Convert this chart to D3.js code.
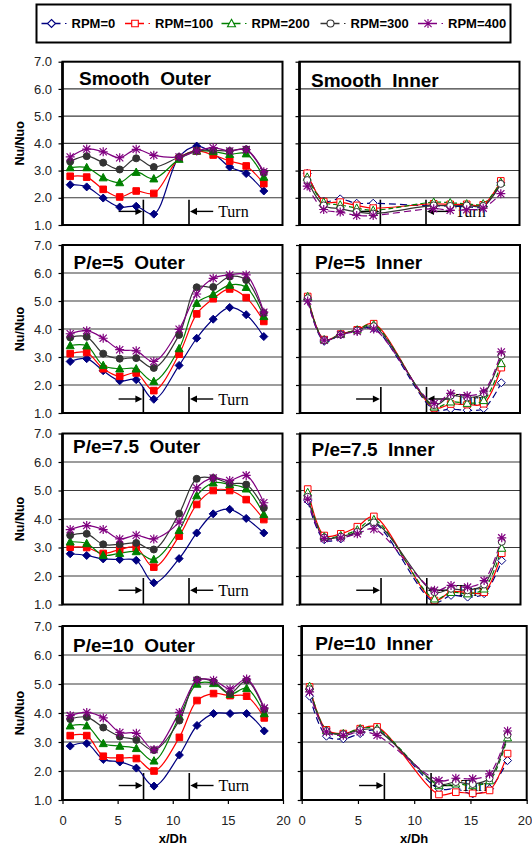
<!DOCTYPE html>
<html><head><meta charset="utf-8">
<script src="https://cdn.jsdelivr.net/npm/d3@7"></script>
<style>
body{margin:0;background:#fff}
svg text{font-family:"Liberation Sans",Arial,sans-serif}
</style></head><body>
<svg id="chart" width="532" height="847"></svg>
<script>
// ---- data ----
const rpmLabels = ["RPM=0", "RPM=100", "RPM=200", "RPM=300", "RPM=400"];
const xOuter = [0.7, 2.2, 3.7, 5.2, 6.7, 8.3, 10.6, 12.2, 13.7, 15.2, 16.7, 18.3];
const xInner = [0.7, 2.2, 3.7, 5.2, 6.7, 12.2, 13.7, 15.2, 16.7, 18.3];
const yTicks = [1, 2, 3, 4, 5, 6, 7];
const xTicks = [0, 5, 10, 15, 20];
const panelTitles = ["Smooth  Outer", "Smooth  Inner", "P/e=5  Outer", "P/e=5  Inner",
                     "P/e=7.5  Outer", "P/e=7.5  Inner", "P/e=10  Outer", "P/e=10  Inner"];
const turnMarks = [7.35, 11.5];

// Nu/Nuo, one row per RPM (0,100,200,300,400)
const smoothOuter = [
  [2.48, 2.40, 1.99, 1.66, 1.69, 1.40, 3.50, 3.90, 3.64, 3.13, 2.89, 2.25],
  [2.79, 2.76, 2.31, 2.03, 2.25, 2.16, 3.45, 3.72, 3.57, 3.35, 3.17, 2.52],
  [3.11, 3.11, 2.74, 2.56, 2.94, 2.70, 3.42, 3.72, 3.70, 3.60, 3.62, 2.76],
  [3.33, 3.53, 3.29, 3.04, 3.45, 3.13, 3.50, 3.74, 3.74, 3.72, 3.78, 2.92],
  [3.50, 3.79, 3.69, 3.47, 3.78, 3.56, 3.50, 3.72, 3.84, 3.72, 3.77, 2.96]
];
const smoothInner = [
  [2.90, 1.88, 1.96, 1.80, 1.80, 1.70, 1.70, 1.67, 1.68, 2.55],
  [2.90, 1.86, 1.84, 1.72, 1.62, 1.78, 1.76, 1.76, 1.74, 2.62],
  [2.76, 1.84, 1.74, 1.62, 1.54, 1.84, 1.82, 1.78, 1.78, 2.57],
  [2.65, 1.72, 1.60, 1.48, 1.42, 1.72, 1.70, 1.72, 1.70, 2.51],
  [2.43, 1.57, 1.48, 1.35, 1.35, 1.60, 1.54, 1.56, 1.62, 2.15]
];
const pe5Outer = [
  [2.84, 2.94, 2.51, 2.15, 2.19, 1.49, 2.70, 3.67, 4.35, 4.77, 4.51, 3.73],
  [3.12, 3.16, 2.58, 2.31, 2.43, 1.80, 3.10, 4.54, 5.08, 5.43, 5.12, 4.27],
  [3.41, 3.40, 2.70, 2.58, 2.58, 2.13, 3.30, 4.92, 5.24, 5.57, 5.49, 4.45],
  [3.70, 3.72, 3.12, 2.94, 2.96, 2.61, 3.79, 5.49, 5.50, 5.87, 5.75, 4.57],
  [3.83, 3.94, 3.67, 3.26, 3.22, 2.84, 3.99, 5.25, 5.81, 5.93, 5.93, 4.60]
];
const pe5Inner = [
  [5.04, 3.56, 3.80, 3.95, 4.03, 1.12, 1.14, 1.10, 1.16, 2.08],
  [5.16, 3.62, 3.82, 3.97, 4.19, 1.18, 1.32, 1.30, 1.33, 2.62],
  [5.16, 3.62, 3.82, 3.97, 4.15, 1.22, 1.40, 1.35, 1.45, 2.77],
  [5.10, 3.60, 3.80, 3.95, 4.10, 1.28, 1.62, 1.55, 1.70, 3.05],
  [5.00, 3.60, 3.80, 3.91, 4.00, 1.34, 1.70, 1.62, 1.78, 3.18]
];
const pe75Outer = [
  [2.78, 2.72, 2.60, 2.58, 2.55, 1.76, 2.61, 3.51, 4.18, 4.34, 4.02, 3.51],
  [3.01, 3.00, 2.79, 2.93, 3.00, 2.31, 3.40, 4.51, 5.00, 5.00, 4.68, 3.98],
  [3.20, 3.14, 2.73, 2.80, 2.86, 2.58, 3.60, 4.82, 5.27, 5.21, 5.06, 4.16],
  [3.43, 3.48, 3.11, 3.11, 3.16, 2.93, 4.19, 5.41, 5.44, 5.25, 5.21, 4.39],
  [3.63, 3.77, 3.63, 3.30, 3.43, 3.30, 3.89, 5.09, 5.44, 5.35, 5.53, 4.57]
];
const pe75Inner = [
  [4.64, 3.27, 3.30, 3.55, 3.85, 1.08, 1.32, 1.26, 1.38, 2.54],
  [5.05, 3.42, 3.48, 3.73, 4.09, 1.14, 1.45, 1.42, 1.43, 2.80],
  [4.93, 3.38, 3.42, 3.62, 3.98, 1.20, 1.43, 1.38, 1.55, 2.98],
  [4.78, 3.35, 3.38, 3.55, 3.88, 1.43, 1.55, 1.50, 1.70, 3.20],
  [4.70, 3.32, 3.34, 3.48, 3.65, 1.50, 1.67, 1.61, 1.84, 3.34]
];
const pe10Outer = [
  [2.86, 2.95, 2.40, 2.31, 2.10, 1.48, 2.55, 3.57, 3.98, 3.98, 3.98, 3.38],
  [3.22, 3.22, 2.51, 2.45, 2.43, 2.00, 3.16, 4.43, 4.67, 4.60, 4.58, 3.83],
  [3.56, 3.56, 2.95, 2.86, 2.78, 2.35, 3.88, 5.00, 5.02, 4.65, 4.85, 3.98],
  [3.79, 3.86, 3.50, 3.19, 3.07, 2.72, 3.74, 5.15, 5.08, 4.68, 5.12, 4.12],
  [3.91, 4.02, 3.83, 3.33, 3.30, 2.74, 4.02, 5.12, 5.13, 4.83, 5.17, 4.17]
];
const pe10Inner = [
  [4.58, 3.20, 3.11, 3.29, 3.40, 1.39, 1.39, 1.21, 1.39, 2.36],
  [4.90, 3.42, 3.29, 3.46, 3.52, 1.19, 1.27, 1.23, 1.33, 2.60],
  [4.92, 3.40, 3.29, 3.46, 3.46, 1.50, 1.56, 1.50, 1.67, 3.15],
  [4.82, 3.38, 3.27, 3.42, 3.40, 1.55, 1.62, 1.55, 1.75, 3.25],
  [4.73, 3.35, 3.23, 3.35, 3.23, 1.67, 1.75, 1.73, 1.90, 3.38]
];

// ---- styles ----
const colors = ["#000080", "#ff0000", "#008000", "#333333", "#800080"];
const innerDash = ["7,4", null, "5,3", null, "7,4"];
const markerPaths = [
  "M0,-4L4,0L0,4L-4,0Z",                       // diamond
  "M-3.3,-3.3H3.3V3.3H-3.3Z",                  // square
  "M0,-4.2L4,3.2H-4Z",                         // triangle
  "M3.5,0A3.5,3.5 0 1,1 -3.5,0A3.5,3.5 0 1,1 3.5,0Z", // circle
  "M-3.6,-3.6L3.6,3.6M-3.6,3.6L3.6,-3.6M0,-4.5V4.5M-4.5,0H4.5" // star
];

// ---- layout ----
const rowBox = [[61.7, 225], [245, 413], [433.5, 604.5], [626, 800]];
const colBox = [[[62.5, 282.5], [299.5, 519.5]], [[62.5, 282.5], [300, 520]],
                [[62.5, 282.5], [300, 520.5]], [[62.5, 283], [301.7, 526.7]]];
const titleOff = [[16.5, 23.5], [11.5, 25], [11, 23.5], [15, 24],
                  [10.5, 19], [11.5, 22], [10.5, 25.5], [13.5, 24]];

const panelData = [smoothOuter, smoothInner, pe5Outer, pe5Inner,
                   pe75Outer, pe75Inner, pe10Outer, pe10Inner];

const svg = d3.select("#chart");

// legend
const legendX = [41.5, 125, 221.5, 320.5, 418];
svg.append("rect").attr("x", 36.5).attr("y", 4.5).attr("width", 474).attr("height", 38)
  .attr("fill", "#fff").attr("stroke", "#000").attr("stroke-width", 2);
rpmLabels.forEach((lab, i) => {
  const g = svg.append("g").attr("transform", `translate(${legendX[i]},23.5)`);
  g.append("line").attr("x1", 0).attr("x2", 19).attr("stroke", colors[i]).attr("stroke-width", 1.5);
  g.append("path").attr("d", markerPaths[i]).attr("transform", "translate(10,0)")
    .attr("fill", i === 4 ? "none" : "#fff").attr("stroke", colors[i]).attr("stroke-width", 1.1);
  g.append("line").attr("x1", 23.5).attr("x2", 25).attr("stroke", colors[i]).attr("stroke-width", 1.2);
  g.append("text").attr("x", 30).attr("y", 4.7).attr("font-size", 13).attr("font-weight", "bold")
    .attr("fill", "#000").text(lab);
});

const lineGen = (x, y) => d3.line().x(d => x(d[0])).y(d => y(d[1])).curve(d3.curveCatmullRom.alpha(0.5));

panelData.forEach((data, p) => {
  const row = Math.floor(p / 2), col = p % 2;
  const inner = col === 1;
  const [top, bottom] = rowBox[row];
  const [left, right] = colBox[row][col];
  const x = d3.scaleLinear().domain([0, 20]).range([left, right]);
  const y = d3.scaleLinear().domain([1, 7]).range([bottom, top]);
  const xs = inner ? xInner : xOuter;
  const g = svg.append("g");

  // horizontal gridlines
  g.selectAll(".grid").data(yTicks.slice(1, -1)).enter().append("line")
    .attr("x1", left).attr("x2", right).attr("y1", d => y(d)).attr("y2", d => y(d))
    .attr("stroke", "#3a3a3a").attr("stroke-width", 1.1);

  // y axis
  const yAxis = d3.axisLeft(y).tickValues(yTicks).tickSize(4).tickSizeOuter(0)
    .tickFormat(inner ? () => "" : d3.format(".1f"));
  const ya = g.append("g").attr("transform", `translate(${left},0)`).call(yAxis);
  ya.select(".domain").remove();
  ya.selectAll(".tick line").attr("stroke", "#000").attr("stroke-width", 1.2);
  ya.selectAll(".tick text").attr("font-size", 13).attr("fill", "#222").attr("x", -10.5)
    .style("font-family", "'Liberation Sans',Arial,sans-serif");

  if (!inner) {
    g.append("text").attr("transform", `translate(20,${(top + bottom) / 2}) rotate(-90)`)
      .attr("text-anchor", "middle").attr("dominant-baseline", "central")
      .attr("font-size", 12.5).attr("font-weight", "bold").text("Nu/Nuo");
  }

  // x axis on the bottom row
  if (row === 3) {
    const xAxis = d3.axisBottom(x).tickValues(xTicks).tickSize(4).tickSizeOuter(0).tickFormat(d3.format("d"));
    const xa = g.append("g").attr("transform", `translate(0,${bottom})`).call(xAxis);
    xa.select(".domain").remove();
    xa.selectAll(".tick line").attr("stroke", "#000").attr("stroke-width", 1.2);
    xa.selectAll(".tick text").attr("font-size", 13).attr("fill", "#222").attr("y", 16)
      .style("font-family", "'Liberation Sans',Arial,sans-serif");
    // keep the last label of the right-hand panel inside the page edge
    if (inner) xa.selectAll(".tick text").filter(d => d === 20).attr("text-anchor", "end").attr("dx", 5);
    g.append("text").attr("x", (left + right) / 2).attr("y", 843).attr("text-anchor", "middle")
      .attr("font-size", 13).attr("font-weight", "bold").text("x/Dh");
  }

  // title
  g.append("text").attr("x", left + titleOff[p][0]).attr("y", top + titleOff[p][1])
    .attr("font-size", 19).attr("font-weight", "bold").style("white-space", "pre")
    .text(panelTitles[p]);

  // turn markers
  const tg = g.append("g");
  turnMarks.forEach(t => {
    tg.append("line").attr("x1", x(t)).attr("x2", x(t)).attr("y1", y(1)).attr("y2", y(1.93))
      .attr("stroke", "#000").attr("stroke-width", 1.6);
  });
  const ay = y(1.5);
  tg.append("line").attr("x1", x(5.1)).attr("x2", x(turnMarks[0]) - 5).attr("y1", ay).attr("y2", ay)
    .attr("stroke", "#000").attr("stroke-width", 1.4);
  tg.append("path").attr("d", `M${x(turnMarks[0]) - 1},${ay}l-7,-3.6v7.2Z`).attr("fill", "#000");
  tg.append("line").attr("x1", x(turnMarks[1]) + 5).attr("x2", x(13.7)).attr("y1", ay).attr("y2", ay)
    .attr("stroke", "#000").attr("stroke-width", 1.4);
  tg.append("path").attr("d", `M${x(turnMarks[1]) + 1},${ay}l7,-3.6v7.2Z`).attr("fill", "#000");
  tg.append("text").attr("x", x(14.15)).attr("y", ay + 5.5).attr("font-size", 16)
    .style("font-family", "'Liberation Serif','Times New Roman',serif").attr("fill", "#000").text("Turn");

  // series
  const clipId = "clip" + p;
  svg.append("clipPath").attr("id", clipId).append("rect")
    .attr("x", left).attr("y", top).attr("width", right - left).attr("height", bottom - top);
  const sg = g.append("g").attr("clip-path", `url(#${clipId})`);
  const lg = lineGen(x, y);
  data.forEach((vals, i) => {
    const pts = vals.map((v, k) => [xs[k], v]);
    const path = sg.append("path").attr("d", lg(pts)).attr("fill", "none")
      .attr("stroke", colors[i]).attr("stroke-width", 1.2);
    if (inner && innerDash[i]) path.attr("stroke-dasharray", innerDash[i]);
  });
  data.forEach((vals, i) => {
    sg.selectAll(null).data(vals.map((v, k) => [xs[k], v])).enter().append("path")
      .attr("d", markerPaths[i])
      .attr("transform", d => `translate(${x(d[0])},${y(d[1])})`)
      .attr("fill", i === 4 ? "none" : (inner ? "#fff" : colors[i]))
      .attr("stroke", colors[i]).attr("stroke-width", i === 4 ? 1.2 : 1);
  });

  // frame: left axis line plus top/right/bottom border
  g.append("rect").attr("x", left).attr("y", top).attr("width", right - left).attr("height", bottom - top)
    .attr("fill", "none").attr("stroke", "#000").attr("stroke-width", 2);
  g.append("line").attr("x1", left).attr("x2", left).attr("y1", top).attr("y2", bottom)
    .attr("stroke", "#000").attr("stroke-width", 2.6);
});
</script>
</body></html>
